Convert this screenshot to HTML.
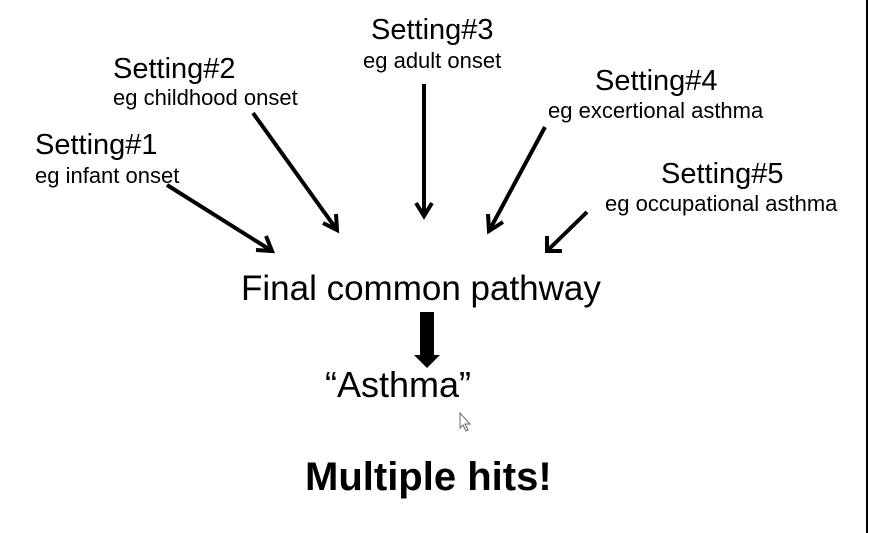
<!DOCTYPE html>
<html><head><meta charset="utf-8"><style>
html,body{margin:0;padding:0;background:#fff;}
svg{display:block;}
text{font-family:"Liberation Sans",Arial,sans-serif;fill:#000;}
</style></head><body>
<svg width="870" height="533" viewBox="0 0 870 533" xmlns="http://www.w3.org/2000/svg">
<rect x="0" y="0" width="870" height="533" fill="#fff"/>
<line x1="867" y1="0" x2="867" y2="533" stroke="#000" stroke-width="2"/>
<g font-size="29">
<text x="35" y="154">Setting#1</text>
<text x="113" y="78">Setting#2</text>
<text x="371" y="39">Setting#3</text>
<text x="595" y="90">Setting#4</text>
<text x="661" y="183">Setting#5</text>
</g>
<g font-size="22">
<text x="35" y="183">eg infant onset</text>
<text x="113" y="105">eg childhood onset</text>
<text x="363" y="68">eg adult onset</text>
<text x="548" y="118">eg excertional asthma</text>
<text x="605" y="211">eg occupational asthma</text>
</g>
<g stroke="#000" stroke-width="4" fill="none" stroke-linecap="butt">
<line x1="167" y1="185" x2="272" y2="251"/>
<polyline points="256,250 272,251 266,236"/>
<line x1="253" y1="113" x2="337" y2="230"/>
<polyline points="323,223 337,230 336,214"/>
<line x1="424" y1="84" x2="424" y2="216"/>
<polyline points="416,203 424,216 432,203"/>
<line x1="545" y1="127" x2="489" y2="231"/>
<polyline points="488,214 489,231 503,222"/>
<line x1="587" y1="212" x2="547" y2="251"/>
<polyline points="547,236 547,251 562,251"/>
</g>
<text x="241" y="300" font-size="35">Final common pathway</text>
<rect x="420" y="312" width="14" height="45" fill="#000"/>
<polygon points="414,355 440,355 427,368" fill="#000"/>
<text x="325" y="397" font-size="36">“Asthma”</text>
<polygon points="460,413 460,428 463,425 466,431 468,430 465,424 470,424" fill="#fff" stroke="#666" stroke-width="1"/>
<text x="305" y="490" font-size="40" font-weight="bold">Multiple hits!</text>
</svg>
</body></html>
